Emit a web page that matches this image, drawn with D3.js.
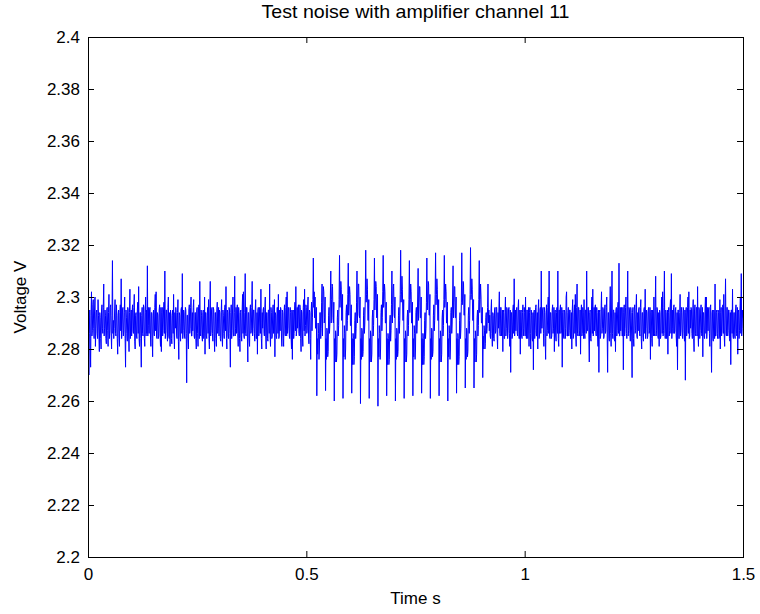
<!DOCTYPE html>
<html>
<head>
<meta charset="utf-8">
<script src="https://cdn.jsdelivr.net/npm/d3@7"></script>
<style>
  body { margin: 0; background: #fff; }
  svg text { font-family: "Liberation Sans", Arial, Helvetica, sans-serif; fill: #000; }
</style>
</head>
<body>
<svg id="chart" width="760" height="614"></svg>
<script>
// Labels
const chartTitle = "Test noise with amplifier channel 11";
const xLabel = "Time s";
const yLabel = "Voltage V";

// Axis ticks
const xTicks = [0, 0.5, 1, 1.5];
const xTickLabels = ["0", "0.5", "1", "1.5"];
const yTicks = [2.2, 2.22, 2.24, 2.26, 2.28, 2.3, 2.32, 2.34, 2.36, 2.38, 2.4];
const yTickLabels = ["2.2", "2.22", "2.24", "2.26", "2.28", "2.3", "2.32", "2.34", "2.36", "2.38", "2.4"];

// Recording: one sample every 1 ms, stored as millivolt offsets from the 2.29 V baseline.
// Each row is one 20 ms mains cycle.
const sampleInterval = 0.001;
const baselineV = 2.29;
const offsetMv = [
  0,6,-20,-4,5,-6,-17,3,12,-5,-3,7,9,-2,-6,5,10,-9,-2,4,
  5,-4,-6,9,3,-5,-11,4,2,-6,-10,5,7,-2,-4,6,15,-5,-2,5,
  3,-6,-8,5,6,-3,-9,4,11,-6,-3,6,7,-4,-10,3,24,-4,1,-6,
  -2,5,9,-4,-5,7,3,-6,-12,3,5,-5,-9,4,7,-3,17,-6,-3,5,
  6,-5,-3,4,10,-6,-17,5,2,-4,-7,6,5,-5,-11,4,13,-6,0,5,
  -5,4,7,-3,-4,6,11,-7,-10,3,4,-5,-6,5,8,-4,14,-6,-9,4,
  4,-6,-17,3,6,-4,-5,7,6,-6,-9,4,10,-5,5,-4,22,-5,-1,6,
  -4,5,6,-5,-9,4,4,-6,-13,3,5,-4,-5,6,11,-3,12,-5,-6,4,
  3,-6,-5,5,7,-4,-9,6,-11,4,6,-5,-3,5,8,-4,20,-6,-3,5,
  5,-4,-7,6,10,-5,-6,4,-9,5,3,-6,-8,3,5,-4,11,-5,-10,4,
  -2,6,4,-5,-6,4,9,-7,-14,4,3,-5,-7,5,6,-4,19,-6,-3,5,
  4,-5,-6,6,5,-4,-23,3,3,-6,-10,5,7,-4,-2,6,10,-5,-5,4,
  -3,6,9,-5,-6,4,4,-6,-10,5,6,-4,-9,5,7,-6,16,-4,-5,5,
  3,-5,-7,4,5,-6,-4,10,-12,4,4,-5,-6,3,6,-4,9,-6,-10,5,
  16,-5,-3,5,6,-4,-7,6,5,-5,-11,4,4,-6,-9,5,8,-4,-2,6,
  -5,5,4,-6,-7,4,9,-5,-9,5,3,-4,-6,6,7,-3,14,-6,-10,5,
  4,-5,-6,6,5,-4,-17,4,7,-6,-3,5,10,-5,-5,4,18,-5,-2,6,
  -4,5,7,-4,-9,6,4,-6,-11,4,5,-5,-7,5,11,-4,12,-5,-6,4,
  19,-4,-5,6,6,-5,-15,4,4,-6,-9,5,7,-4,-3,6,16,-5,-2,5,
  5,-4,-7,5,9,-6,-6,4,-12,5,6,-5,-4,6,5,-4,13,-6,-10,4,
  -2,5,6,-4,-5,6,10,-5,-10,4,4,-6,-7,5,5,-4,15,-5,-9,6,
  4,-6,-5,5,7,-4,-3,9,-13,4,3,-5,-6,6,6,-4,11,-6,-5,5,
  -3,6,5,-5,-9,5,4,-6,-9,4,7,-4,-5,6,10,-5,12,-4,-2,6,
  5,-5,-6,6,4,-5,-10,5,-14,4,5,-6,-4,5,8,-3,14,-5,-3,6,
  -2,6,7,-4,-5,7,6,-6,-11,5,4,-5,-9,6,9,-3,13,-5,-1,7,
  6,-4,-3,7,10,-5,-8,5,4,-6,-14,4,8,-3,2,9,25,6,12,2,
  10,-2,-2,6,-28,-6,-12,0,-4,-14,-10,4,4,-6,-2,8,15,-5,8,14,
  12,0,2,10,-26,-6,-14,-2,-3,-13,-11,3,6,-4,0,10,20,0,9,15,
  14,2,0,8,-30,-6,-15,-3,-5,-15,-12,2,5,-5,-1,9,26,6,10,16,
  13,1,3,11,-29,-6,-13,-1,-4,-14,-10,4,7,-3,1,11,23,3,8,14,
  11,-1,-1,7,-27,-6,-16,-4,-6,-16,-13,1,4,-6,-2,8,20,0,9,15,
  15,3,2,10,-31,-6,-14,-2,-3,-13,-11,3,6,-4,0,10,28,8,11,17,
  13,1,1,9,-29,-6,-15,-3,-5,-15,-12,2,5,-5,-1,9,25,5,10,16,
  14,2,3,11,-32,-6,-13,-1,-4,-14,-10,4,7,-3,2,12,26,6,9,15,
  12,0,0,8,-28,-6,-16,-4,-6,-16,-14,0,3,-7,-3,7,20,0,8,14,
  15,3,2,10,-30,-6,-14,-2,-3,-13,-11,3,6,-4,1,11,28,8,12,18,
  13,1,1,9,-29,-6,-15,-3,-5,-15,-12,2,5,-5,-1,9,24,4,9,15,
  12,0,0,8,-28,-6,-13,-1,-4,-14,-10,4,6,-4,0,10,21,1,8,14,
  14,2,2,10,-27,-6,-16,-4,-6,-16,-13,1,4,-6,-2,8,25,5,10,16,
  15,3,3,11,-29,-6,-14,-2,-3,-13,-11,3,7,-3,1,11,27,7,11,17,
  13,1,1,9,-28,-6,-15,-3,-5,-15,-12,2,5,-5,-1,9,26,6,9,15,
  12,0,0,8,-30,-6,-13,-1,-4,-14,-10,4,6,-4,0,10,22,2,8,14,
  14,2,2,10,-27,-6,-16,-4,-6,-16,-13,1,4,-6,-2,8,27,7,10,16,
  15,3,3,11,-25,-6,-14,-2,-3,-13,-11,3,6,-4,1,11,29,9,11,17,
  13,1,1,9,-25,-6,-15,-3,-5,-15,-12,2,5,-5,-1,9,24,4,9,15,
  10,0,0,6,-21,-5,-10,-1,-3,-10,-8,2,4,-4,-2,6,15,0,5,-3,
  3,-5,-6,5,9,-4,-9,4,3,-6,-7,5,6,-4,-3,6,6,-5,-10,4,
  -2,5,12,-4,-5,6,6,-5,-3,5,-11,4,5,-6,-6,4,10,-5,-2,6,
  5,-6,-3,5,6,-4,-9,5,-19,4,4,-6,-5,5,7,-4,17,-5,-2,5,
  -3,5,6,-4,-5,6,9,-6,-6,5,-12,4,5,-5,-6,4,7,-5,-2,6,
  4,-5,10,-4,-6,5,5,-6,-3,6,-9,4,6,-4,-10,5,3,-6,-7,4,
  -18,4,5,-6,-3,6,7,-5,-5,4,-10,5,9,-6,-5,5,6,-4,20,-2,
  -2,5,6,-4,-9,6,4,-6,-14,4,7,-5,-3,6,10,-4,20,-5,-6,4,
  4,-6,-5,5,7,-4,-2,6,-11,4,5,-5,-7,4,6,-4,20,-6,-9,5,
  -4,5,7,-4,-3,6,-17,4,5,-5,-6,5,4,-6,-2,10,12,-5,-5,4,
  6,-5,-3,5,5,-6,-6,4,-10,5,9,-6,-5,4,7,-4,11,-5,-9,6,
  15,-4,-5,6,6,-5,-3,5,-12,4,7,-5,-4,6,4,-6,9,-4,-6,5,
  5,-4,20,-3,-3,6,6,-5,-15,4,5,-6,-7,5,10,-4,13,-5,-3,6,
  -3,6,7,-4,-5,6,4,-5,-9,5,-19,4,5,-6,-5,5,12,-4,-2,6,
  5,-6,-5,5,7,-4,-3,6,10,-5,-19,4,4,-6,-7,5,14,-4,-9,5,
  20,-4,-6,5,5,-6,-7,4,-11,5,6,-5,-3,6,8,-4,23,-5,-5,6,
  -3,5,6,-5,-5,6,-18,4,7,-5,-2,6,10,-4,-6,5,20,-5,-3,6,
  5,-4,-7,6,4,-5,-21,4,6,-6,-9,5,7,-4,-3,6,11,-5,-6,4,
  -3,5,6,-4,-5,6,9,-6,-10,4,4,-5,-7,5,6,-4,13,-6,-2,5,
  4,-6,-5,5,6,-4,-3,6,-14,4,5,-6,-9,5,4,-5,10,-4,-5,6,
  18,-5,-3,6,5,-5,-6,4,-9,5,4,-6,-5,5,10,-4,12,-5,-3,6,
  20,-4,-6,5,4,-6,-5,5,-12,4,6,-5,-3,6,9,-4,19,-6,-2,5,
  -4,6,7,-4,-3,5,6,-5,-9,4,-18,5,5,-6,-6,4,11,-5,-3,6,
  4,-5,-6,6,5,-4,-7,5,-22,4,6,-5,-3,6,10,-4,12,-6,-5,5,
  -2,6,5,-4,-6,5,9,-6,-11,5,7,-4,-5,6,6,-5,14,-4,-9,6,
  5,-6,-3,5,7,-4,-5,6,-13,4,4,-5,-6,5,10,-4,10,-6,-2,6,
  -3,5,6,-4,-9,6,7,-5,-19,4,5,-6,-7,5,4,-6,15,-5,-5,4,
  5,-4,-6,5,4,-6,-5,9,-10,4,6,-5,-3,6,7,-4,11,-5,-9,5,
  17,-4,-5,6,6,-5,-3,5,5,-6,-7,4,-16,5,5,-4,13,-5,-6,4,
  4,-5,-6,5,7,-4,-5,6,-12,4,5,-6,-3,5,10,-4,19,-5,-2,5,
  2
];

const samples = offsetMv.map((mv, i) => ({ t: i * sampleInterval, v: baselineV + mv / 1000 }));

const width = 760, height = 614;
const margin = { top: 37, right: 17, bottom: 57, left: 88 };
const plotW = width - margin.left - margin.right;
const plotH = height - margin.top - margin.bottom;

const svg = d3.select("#chart");
const g = svg.append("g").attr("transform", `translate(${margin.left},${margin.top})`);

const x = d3.scaleLinear().domain([0, 1.5]).range([0, plotW]);
const y = d3.scaleLinear().domain([2.2, 2.4]).range([plotH, 0]);

svg.append("defs").append("clipPath").attr("id", "plot-clip")
  .append("rect").attr("width", plotW).attr("height", plotH);

// signal trace
g.append("path")
  .datum(samples)
  .attr("clip-path", "url(#plot-clip)")
  .attr("fill", "none")
  .attr("stroke", "#0000ff")
  .attr("stroke-width", 1)
  .attr("d", d3.line().x(d => x(d.t)).y(d => y(d.v)));

const tickLen = 6;
const fmtX = (d, i) => xTickLabels[i];
const fmtY = (d, i) => yTickLabels[i];

// bottom axis with labels, ticks pointing inward
const axisB = g.append("g").attr("transform", `translate(0,${plotH})`)
  .call(d3.axisBottom(x).tickValues(xTicks).tickFormat(fmtX).tickSizeInner(-tickLen).tickSizeOuter(0).tickPadding(11));
// left axis with labels
const axisL = g.append("g")
  .call(d3.axisLeft(y).tickValues(yTicks).tickFormat(fmtY).tickSizeInner(-tickLen).tickSizeOuter(0).tickPadding(8));
// top and right axes: ticks only
const axisT = g.append("g")
  .call(d3.axisTop(x).tickValues(xTicks).tickFormat("").tickSizeInner(-tickLen).tickSizeOuter(0));
const axisR = g.append("g").attr("transform", `translate(${plotW},0)`)
  .call(d3.axisRight(y).tickValues(yTicks).tickFormat("").tickSizeInner(-tickLen).tickSizeOuter(0));

[axisB, axisL, axisT, axisR].forEach(a => {
  a.select(".domain").remove();
  a.selectAll("line").attr("stroke", "#000").attr("stroke-width", 1);
  a.selectAll("text").attr("font-size", 17).attr("fill", "#000")
    .style("font-family", '"Liberation Sans", Arial, sans-serif');
});

// plot box
g.append("rect")
  .attr("x", 0.5).attr("y", 0.5)
  .attr("width", plotW).attr("height", plotH)
  .attr("fill", "none").attr("stroke", "#000").attr("stroke-width", 1);

// title and axis labels
svg.append("text")
  .attr("x", margin.left + plotW / 2).attr("y", 18)
  .attr("text-anchor", "middle").attr("font-size", 19)
  .attr("textLength", 308).attr("lengthAdjust", "spacingAndGlyphs")
  .text(chartTitle);

svg.append("text")
  .attr("x", margin.left + plotW / 2).attr("y", 604)
  .attr("text-anchor", "middle").attr("font-size", 17)
  .text(xLabel);

svg.append("text")
  .attr("transform", `translate(26,${margin.top + plotH / 2}) rotate(-90)`)
  .attr("text-anchor", "middle").attr("font-size", 17)
  .text(yLabel);
</script>
</body>
</html>
